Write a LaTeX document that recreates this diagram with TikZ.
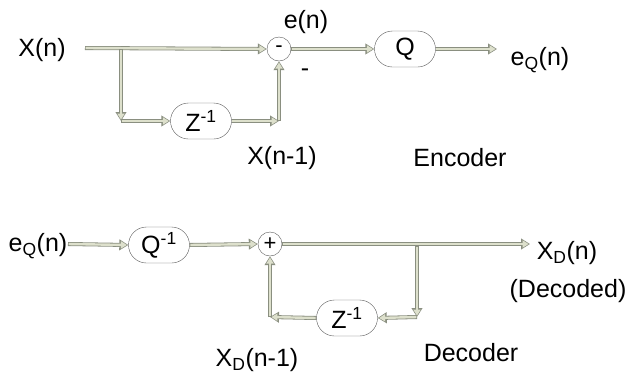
\documentclass[tikz,border=0pt]{standalone}
\usepackage{fontspec}
\setmainfont{Liberation Sans}
\usetikzlibrary{arrows.meta,shapes.misc}
\definecolor{pipegreen}{HTML}{DDE0CC}
\definecolor{edgegray}{HTML}{8A8F80}
\begin{document}
\begin{tikzpicture}[x=1pt,y=-1pt,
 pipe/.style={line width=2.4pt, draw=pipegreen, -{Triangle[length=6pt,width=7pt]},
   shorten >=1.4pt, shorten <=0.7pt,
   preaction={draw=edgegray, line width=4pt, -{Triangle[length=9pt,width=10.5pt]}, shorten >=0pt, shorten <=0pt}},
 blk/.style={draw=black!65, rounded rectangle, minimum width=61pt, minimum height=36pt, inner sep=0pt, font=\fontsize{25}{28}\selectfont},
 sumn/.style={draw=black!65, circle, minimum size=24pt, inner sep=0pt, font=\fontsize{22}{24}\selectfont},
 lbl/.style={font=\fontsize{25}{28}\selectfont, inner sep=0pt}]
\useasboundingbox (0,0) rectangle (630,373);
% ---------- Encoder ----------
\node[lbl] (xn) at (42,50) {X(n)};
\coordinate (a0) at (85,48);
\node[sumn] (s1) at (279,49) {-};
\coordinate (b1) at (121,49);
\coordinate (b2) at (121,121);
\node[blk] (z1) at (201,121) {Z\textsuperscript{-1}};
\coordinate (c1) at (279,121);
\node[blk] (q) at (405,49) {Q};
\coordinate (qo) at (497,49);
\draw[pipe] (a0) -- (s1.west);
\draw[pipe] (b1) -- (b2);
\draw[pipe] (b2) -- (z1.west);
\draw[pipe] (z1.east) -- (c1);
\draw[pipe] (c1) -- (s1.south);
\draw[pipe] (s1.east) -- (q.west);
\draw[pipe] (q.east) -- (qo);
\node[lbl] (en) at (306,22) {e(n)};
\node[lbl] (mn) at (305,73) {-};
\node[lbl] (xn1) at (282,158) {X(n-1)};
\node[lbl] (eq1) at (540,60) {e\textsubscript{Q}(n)};
\node[lbl] (enc) at (460,158) {Encoder};
% ---------- Decoder ----------
\node[lbl] (eq2) at (38,246) {e\textsubscript{Q}(n)};
\coordinate (d0) at (68,244);
\node[blk] (qi) at (159,245) {Q\textsuperscript{-1}};
\node[sumn] (s2) at (270,244) {+};
\coordinate (do) at (530,244);
\coordinate (e1) at (417,246);
\coordinate (e2) at (417,317);
\node[blk] (z2) at (347,318) {Z\textsuperscript{-1}};
\coordinate (f1) at (270,317);
\draw[pipe] (d0) -- (qi.west);
\draw[pipe] (qi.east) -- (s2.west);
\draw[pipe] (s2.east) -- (do);
\draw[pipe] (e1) -- (e2);
\draw[pipe] (e2) -- (z2.east);
\draw[pipe] (z2.west) -- (f1);
\draw[pipe] (f1) -- (s2.south);
\node[lbl] (xd) at (567,253) {X\textsubscript{D}(n)};
\node[lbl] (dec) at (568,291) {(Decoded)};
\node[lbl] (xd1) at (257,360) {X\textsubscript{D}(n-1)};
\node[lbl] (dcr) at (471,353) {Decoder};
\end{tikzpicture}
\end{document}
